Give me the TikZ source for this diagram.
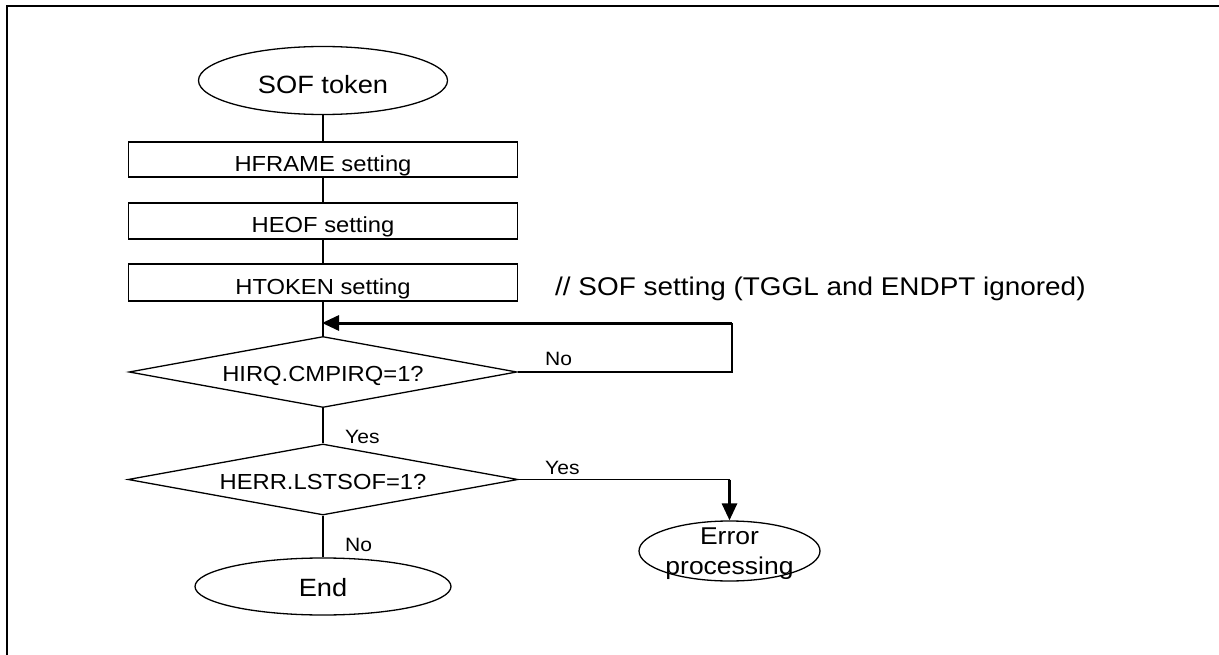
\documentclass[tikz,border=0pt]{standalone}
\usepackage{fontspec}
\setmainfont{Liberation Sans}[FakeStretch=1.09]
\usetikzlibrary{shapes.geometric,arrows.meta}
\begin{document}
\begin{tikzpicture}[x=1pt,y=-1pt,
  every node/.style={inner sep=0pt},
  shapeline/.style={draw=black, line width=1.3pt},
  term/.style={shapeline, ellipse, font=\fontsize{25pt}{30pt}\selectfont},
  proc/.style={shapeline, rectangle, minimum width=389pt, font=\fontsize{21.8pt}{26pt}\selectfont, text height=23.4pt, text depth=0pt},
  dec/.style={shapeline, diamond, aspect=5.5, minimum height=71pt, font=\fontsize{21.8pt}{26pt}\selectfont, text height=19.6pt, text depth=0pt},
  lbl/.style={font=\fontsize{19.3pt}{23pt}\selectfont, anchor=west},
  flow/.style={line width=1.3pt},
  thickflow/.style={line width=3pt, -{Triangle[length=17pt,width=15pt]}},
]
\useasboundingbox (0,0) rectangle (1219,655);
\fill[white] (0,0) rectangle (1219,655);
% frame
\draw[line width=2.4pt] (7,665) -- (7,6) -- (1230,6);

% nodes
\node[term, minimum width=249pt, minimum height=68pt, text height=25.3pt, text depth=0pt] (sof) at (323,80.5) {SOF token};
\node[proc, minimum height=35pt] (hframe) at (323,159.5) {HFRAME setting};
\node[proc, minimum height=36pt] (heof) at (323,221) {HEOF setting};
\node[proc, minimum height=37pt] (htoken) at (323,282.5) {HTOKEN setting};
\node[font=\fontsize{25.6pt}{30pt}\selectfont, anchor=base west] (note) at (555,295) {// SOF setting (TGGL and ENDPT ignored)};
\node[dec, minimum width=388pt] (d1) at (323,372) {HIRQ.CMPIRQ=1?};
\node[dec, minimum width=390pt] (d2) at (323,479.5) {HERR.LSTSOF=1?};
\node[term, minimum width=256pt, minimum height=57pt, text height=19.9pt, text depth=0pt] (endn) at (323,586.5) {End};
\node[shapeline, ellipse, minimum width=181pt, minimum height=60pt] (err) at (729.5,551) {};
\node[font=\fontsize{24.3pt}{30pt}\selectfont, align=center] (errtxt) at (729.5,554) {Error\\processing};

% labels
\node[lbl] (no1) at (545,358.5) {No};
\node[lbl] (yes1) at (345,437) {Yes};
\node[lbl] (yes2) at (545,467.5) {Yes};
\node[lbl] (no2) at (345,544.5) {No};

% connectors
\draw[flow] (sof.south) -- (hframe.north);
\draw[flow] (hframe.south) -- (heof.north);
\draw[flow] (heof.south) -- (htoken.north);
\draw[flow] (htoken.south) -- (d1.north);
\coordinate (loopc) at (732,323);
\draw[line width=1.8pt] (d1.east) -| (loopc);
\draw[thickflow, shorten >=-1pt] (loopc) -- (loopc -| d1.north);
\draw[flow] (d1.south) -- (d2.north);
\coordinate (yesc) at (err.north |- d2.east);
\draw[flow] (d2.east) -- (yesc);
\draw[thickflow] (yesc) -- (err.north);
\draw[flow] (d2.south) -- (endn.north);
\end{tikzpicture}
\end{document}
